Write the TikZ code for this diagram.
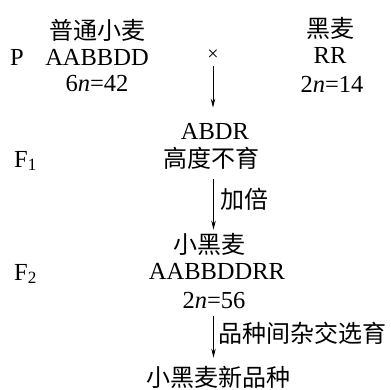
\documentclass[tikz,border=0pt]{standalone}
\usepackage{fontspec}
\setmainfont{Liberation Serif}
\newfontfamily\cjk{Noto Sans CJK SC}
\usetikzlibrary{arrows.meta}
\tikzset{
  txt/.style={inner sep=0pt, font=\fontsize{24.5}{28}\selectfont},
  cn/.style={txt, font=\cjk\fontsize{24}{28}\selectfont},
  arr/.style={line width=0.9pt, -{Stealth[length=9pt,width=4.5pt]}},
  lbl/.style={cn, anchor=west}
}
\begin{document}
\begin{tikzpicture}[x=1pt,y=-1pt]
\useasboundingbox (0,0) rectangle (391,389);
\node[cn] (wheat) at (97,30) {普通小麦};
\node[txt] (P) at (17,57) {P};
\node[txt] (aabbdd) at (97,57) {AABBDD};
\node[txt] (n42) at (97,84) {6\textit{n}=42};
\node[cn] (rye) at (330,28) {黑麦};
\node[txt] (rr) at (330,55) {RR};
\node[txt] (n14) at (332,84) {2\textit{n}=14};
\node[txt, font=\fontsize{20}{22}\selectfont] (times) at (213,55) {×};
\node[txt] (abdr) at (215,131) {ABDR};
\node[txt, anchor=west] (F1) at (14,161) {F\textsubscript{1}};
\node[cn] (gdby) at (211,158) {高度不育};
\node[cn] (xhm) at (209,244) {小黑麦};
\node[txt, anchor=west] (F2) at (14,274) {F\textsubscript{2}};
\node[txt] (aabbddrr) at (217,271) {AABBDDRR};
\node[txt] (n56) at (214,301) {2\textit{n}=56};
\node[cn] (final) at (218,377) {小黑麦新品种};
\coordinate (col) at (213.5,0);
\draw[arr] ([yshift=-5pt]times.south) -- ([yshift=15pt]times.south |- abdr.north);
\draw[arr] ([yshift=-10pt]gdby.south -| col) -- node[lbl, pos=0.4, xshift=7pt] (jb) {加倍} ([yshift=3pt]xhm.north -| col);
\draw[arr] ([yshift=-7pt]n56.south -| col) -- node[lbl, pos=0.4, xshift=5pt] (pz) {品种间杂交选育} ([yshift=8pt]final.north -| col);
\end{tikzpicture}
\end{document}
